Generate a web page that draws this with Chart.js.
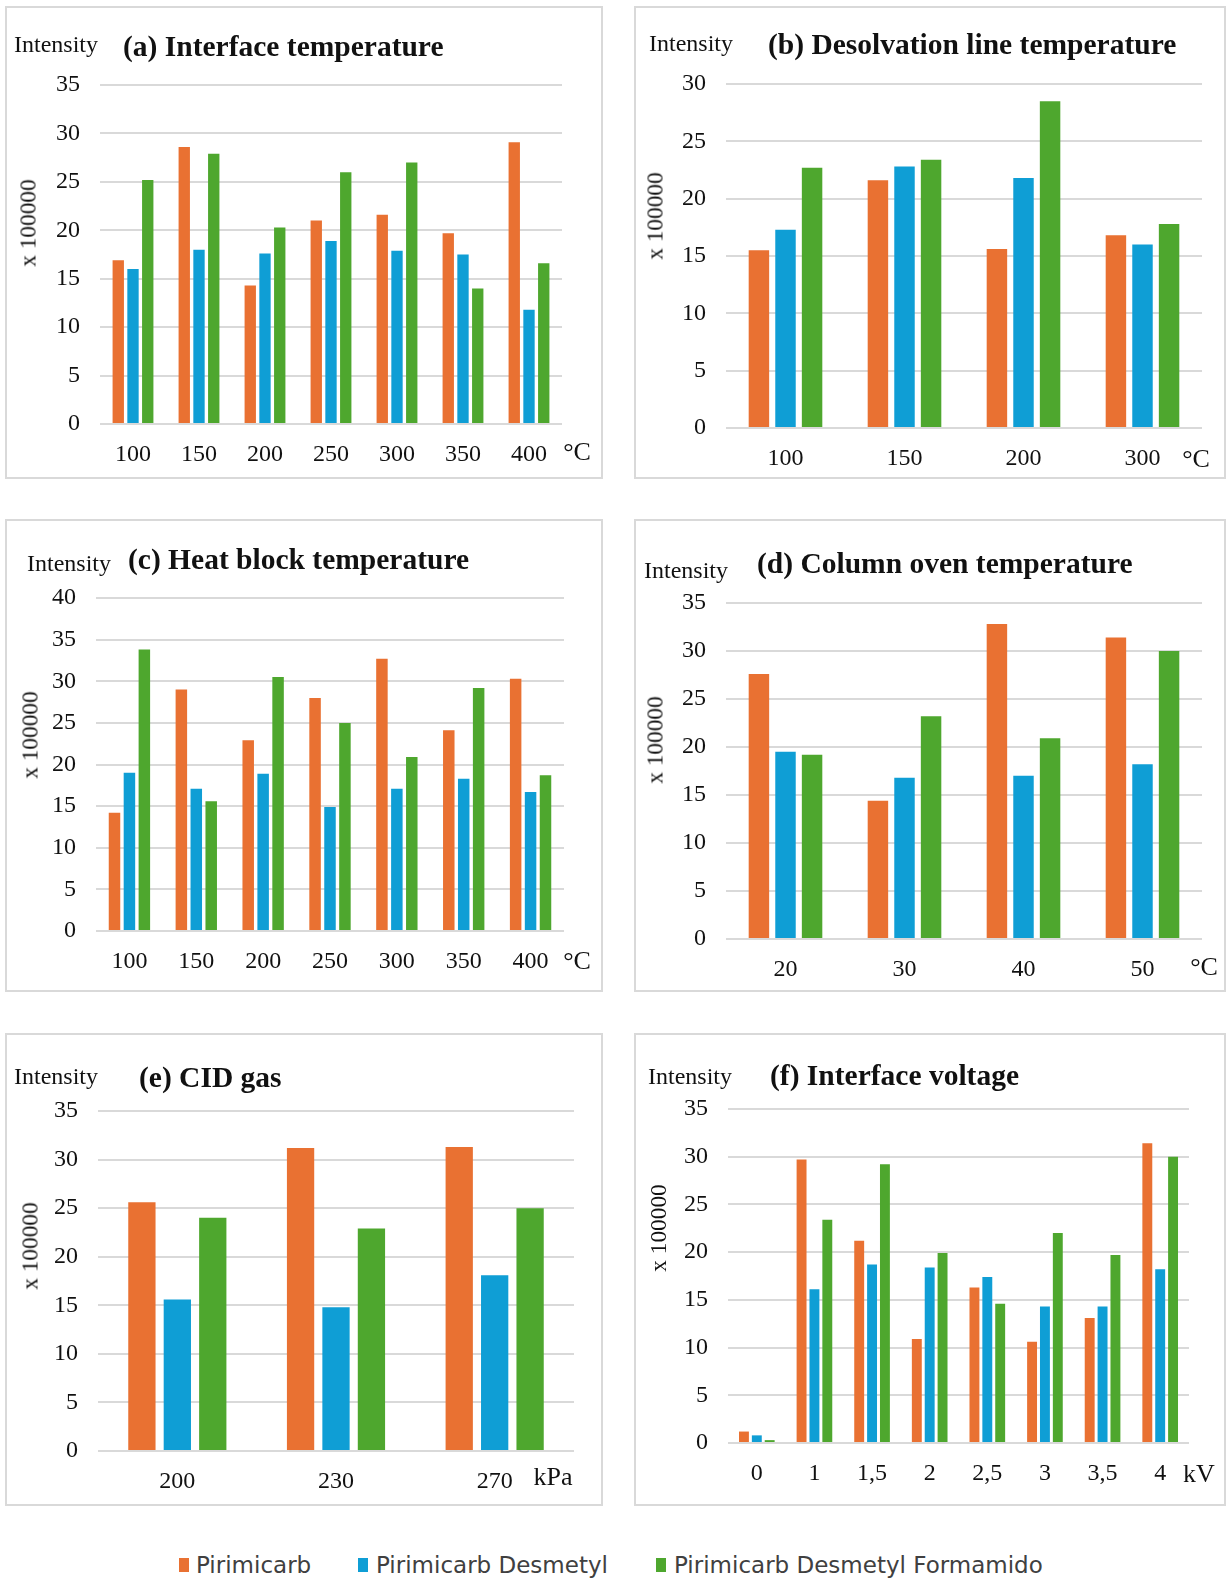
<!DOCTYPE html>
<html>
<head>
<meta charset="utf-8">
<title>Optimisation of MS parameters</title>
<script src="https://cdn.jsdelivr.net/npm/chart.js@4.4.1/dist/chart.umd.min.js"></script>
<style>
    body { margin: 0; background: #fff; }
    #page {
        position: relative;
        width: 1228px;
        height: 1578px;
        overflow: hidden;
        font-family: "Liberation Serif", "Times New Roman", serif;
        color: #111;
    }
    .frame { position: absolute; border: 2px solid #d9d9d9; box-sizing: border-box; }
    canvas { position: absolute; }
    .txt { position: absolute; white-space: nowrap; }
    .intensity { font-size: 24px; transform: translate(0, -50%); }
    .title { font-size: 29.5px; font-weight: bold; transform: translate(0, -50%); }
    .ytitle { font-size: 23.3px; transform: translate(-50%, -50%) rotate(-90deg); }
    .unit { font-size: 26px; transform: translate(-50%, -50%); }
    .leg-box { position: absolute; width: 10px; height: 14px; }
    .leg-txt {
        position: absolute;
        font-family: "DejaVu Sans", sans-serif;
        font-size: 23px;
        color: #404040;
        white-space: nowrap;
        transform: translate(0, -50%);
    }
</style>
</head>
<body>
<div id="page"></div>

<script>
// Series
const seriesNames = ['Pirimicarb', 'Pirimicarb Desmetyl', 'Pirimicarb Desmetyl Formamido'];
const seriesColors = ['#E97132', '#0F9ED5', '#4EA72E'];

// (a) Interface temperature
const interfaceTempLabels = ['100', '150', '200', '250', '300', '350', '400'];
const interfaceTempPirimicarb = [16.9, 28.6, 14.3, 21.0, 21.6, 19.7, 29.1];
const interfaceTempDesmetyl = [16.0, 18.0, 17.6, 18.9, 17.9, 17.5, 11.8];
const interfaceTempFormamido = [25.2, 27.9, 20.3, 26.0, 27.0, 14.0, 16.6];

// (b) Desolvation line temperature
const dlTempLabels = ['100', '150', '200', '300'];
const dlTempPirimicarb = [15.5, 21.6, 15.6, 16.8];
const dlTempDesmetyl = [17.3, 22.8, 21.8, 16.0];
const dlTempFormamido = [22.7, 23.4, 28.5, 17.8];

// (c) Heat block temperature
const heatBlockLabels = ['100', '150', '200', '250', '300', '350', '400'];
const heatBlockPirimicarb = [14.2, 29.0, 22.9, 28.0, 32.7, 24.1, 30.3];
const heatBlockDesmetyl = [19.0, 17.1, 18.9, 14.9, 17.1, 18.3, 16.7];
const heatBlockFormamido = [33.8, 15.6, 30.5, 25.0, 20.9, 29.2, 18.7];

// (d) Column oven temperature
const ovenLabels = ['20', '30', '40', '50'];
const ovenPirimicarb = [27.6, 14.4, 32.8, 31.4];
const ovenDesmetyl = [19.5, 16.8, 17.0, 18.2];
const ovenFormamido = [19.2, 23.2, 20.9, 30.0];

// (e) CID gas
const cidLabels = ['200', '230', '270'];
const cidPirimicarb = [25.6, 31.2, 31.3];
const cidDesmetyl = [15.6, 14.8, 18.1];
const cidFormamido = [24.0, 22.9, 25.0];

// (f) Interface voltage
const voltageLabels = ['0', '1', '1,5', '2', '2,5', '3', '3,5', '4'];
const voltagePirimicarb = [1.2, 29.7, 21.2, 10.9, 16.3, 10.6, 13.1, 31.4];
const voltageDesmetyl = [0.8, 16.1, 18.7, 18.4, 17.4, 14.3, 14.3, 18.2];
const voltageFormamido = [0.3, 23.4, 29.2, 19.9, 14.6, 22.0, 19.7, 30.0];

// Panel content
const panels = [
    { title: '(a) Interface temperature', unit: '°C', yMax: 35, labels: interfaceTempLabels,
      series: [interfaceTempPirimicarb, interfaceTempDesmetyl, interfaceTempFormamido] },
    { title: '(b) Desolvation line temperature', unit: '°C', yMax: 30, labels: dlTempLabels,
      series: [dlTempPirimicarb, dlTempDesmetyl, dlTempFormamido] },
    { title: '(c) Heat block temperature', unit: '°C', yMax: 40, labels: heatBlockLabels,
      series: [heatBlockPirimicarb, heatBlockDesmetyl, heatBlockFormamido] },
    { title: '(d) Column oven temperature', unit: '°C', yMax: 35, labels: ovenLabels,
      series: [ovenPirimicarb, ovenDesmetyl, ovenFormamido] },
    { title: '(e) CID gas', unit: 'kPa', yMax: 35, labels: cidLabels,
      series: [cidPirimicarb, cidDesmetyl, cidFormamido] },
    { title: '(f) Interface voltage', unit: 'kV', yMax: 35, labels: voltageLabels,
      series: [voltagePirimicarb, voltageDesmetyl, voltageFormamido] }
];

// Page layout: frame box, plot area, and text anchors (page px)
const layout = [
    { box: [5, 6, 598, 473], plot: [100, 85, 562, 424], intensity: [14, 44], title: [123, 46],
      ytitle: [28, 223], unit: [577, 452] },
    { box: [634, 6, 592, 473], plot: [726, 84, 1202, 428], intensity: [649, 43], title: [768, 44],
      ytitle: [655, 216], unit: [1196, 459] },
    { box: [5, 519, 598, 473], plot: [96, 598, 564, 931], intensity: [27, 563], title: [128, 559],
      ytitle: [30, 735], unit: [577, 961] },
    { box: [634, 519, 592, 473], plot: [726, 603, 1202, 939], intensity: [644, 570], title: [757, 563],
      ytitle: [655, 740], unit: [1204, 967] },
    { box: [5, 1033, 598, 473], plot: [98, 1111, 574, 1451], intensity: [14, 1076], title: [139, 1077],
      ytitle: [30, 1246], unit: [553, 1477] },
    { box: [634, 1033, 592, 473], plot: [728, 1109, 1189, 1443], intensity: [648, 1076], title: [770, 1075],
      ytitle: [658, 1228], unit: [1199, 1474] }
];

const legendPos = [[179, 196], [358, 376], [656, 674]];
const legendY = 1565;

const Y_AXIS_W = 60;
const X_AXIS_H = 50;

Chart.defaults.font.family = '"Liberation Serif", "Times New Roman", serif';
Chart.defaults.color = '#111';

const page = document.getElementById('page');

function addText(cls, text, x, y) {
    const el = document.createElement('div');
    el.className = 'txt ' + cls;
    el.textContent = text;
    el.style.left = x + 'px';
    el.style.top = y + 'px';
    page.appendChild(el);
    return el;
}

panels.forEach((p, i) => {
    const L = layout[i];
    const [bx, by, bw, bh] = L.box;
    const [pl, pt, pr, pb] = L.plot;

    const frame = document.createElement('div');
    frame.className = 'frame';
    frame.style.left = bx + 'px';
    frame.style.top = by + 'px';
    frame.style.width = bw + 'px';
    frame.style.height = bh + 'px';
    page.appendChild(frame);

    const canvas = document.createElement('canvas');
    canvas.width = bw;
    canvas.height = bh;
    canvas.style.left = bx + 'px';
    canvas.style.top = by + 'px';
    page.appendChild(canvas);

    addText('intensity', 'Intensity', L.intensity[0], L.intensity[1]);
    addText('title', p.title, L.title[0], L.title[1]);
    addText('ytitle', 'x 100000', L.ytitle[0], L.ytitle[1]);
    addText('unit', p.unit, L.unit[0], L.unit[1]);

    new Chart(canvas.getContext('2d'), {
        type: 'bar',
        data: {
            labels: p.labels,
            datasets: p.series.map((vals, k) => ({
                label: seriesNames[k],
                data: vals,
                backgroundColor: seriesColors[k],
                borderWidth: 0,
                categoryPercentage: 0.67,
                barPercentage: 0.77
            }))
        },
        options: {
            responsive: false,
            animation: false,
            devicePixelRatio: 1,
            layout: {
                padding: {
                    left: pl - bx - Y_AXIS_W,
                    right: bx + bw - pr,
                    top: pt - by,
                    bottom: by + bh - pb - X_AXIS_H
                }
            },
            plugins: {
                legend: { display: false },
                tooltip: { enabled: false }
            },
            scales: {
                x: {
                    grid: { display: false },
                    border: { display: false },
                    ticks: {
                        font: { size: 24 },
                        color: '#111',
                        padding: 8,
                        maxRotation: 0
                    },
                    afterFit: s => { s.height = X_AXIS_H; }
                },
                y: {
                    min: 0,
                    max: p.yMax,
                    grid: {
                        color: '#d9d9d9',
                        lineWidth: 2,
                        drawTicks: false
                    },
                    border: { display: false },
                    ticks: {
                        stepSize: 5,
                        font: { size: 24 },
                        color: '#111',
                        padding: 20
                    },
                    afterFit: s => { s.width = Y_AXIS_W; }
                }
            }
        }
    });
});

// Shared legend
seriesNames.forEach((name, k) => {
    const box = document.createElement('div');
    box.className = 'leg-box';
    box.style.background = seriesColors[k];
    box.style.left = legendPos[k][0] + 'px';
    box.style.top = (legendY - 7) + 'px';
    page.appendChild(box);

    const t = document.createElement('div');
    t.className = 'leg-txt';
    t.textContent = name;
    t.style.left = legendPos[k][1] + 'px';
    t.style.top = legendY + 'px';
    page.appendChild(t);
});
</script>
</body>
</html>
